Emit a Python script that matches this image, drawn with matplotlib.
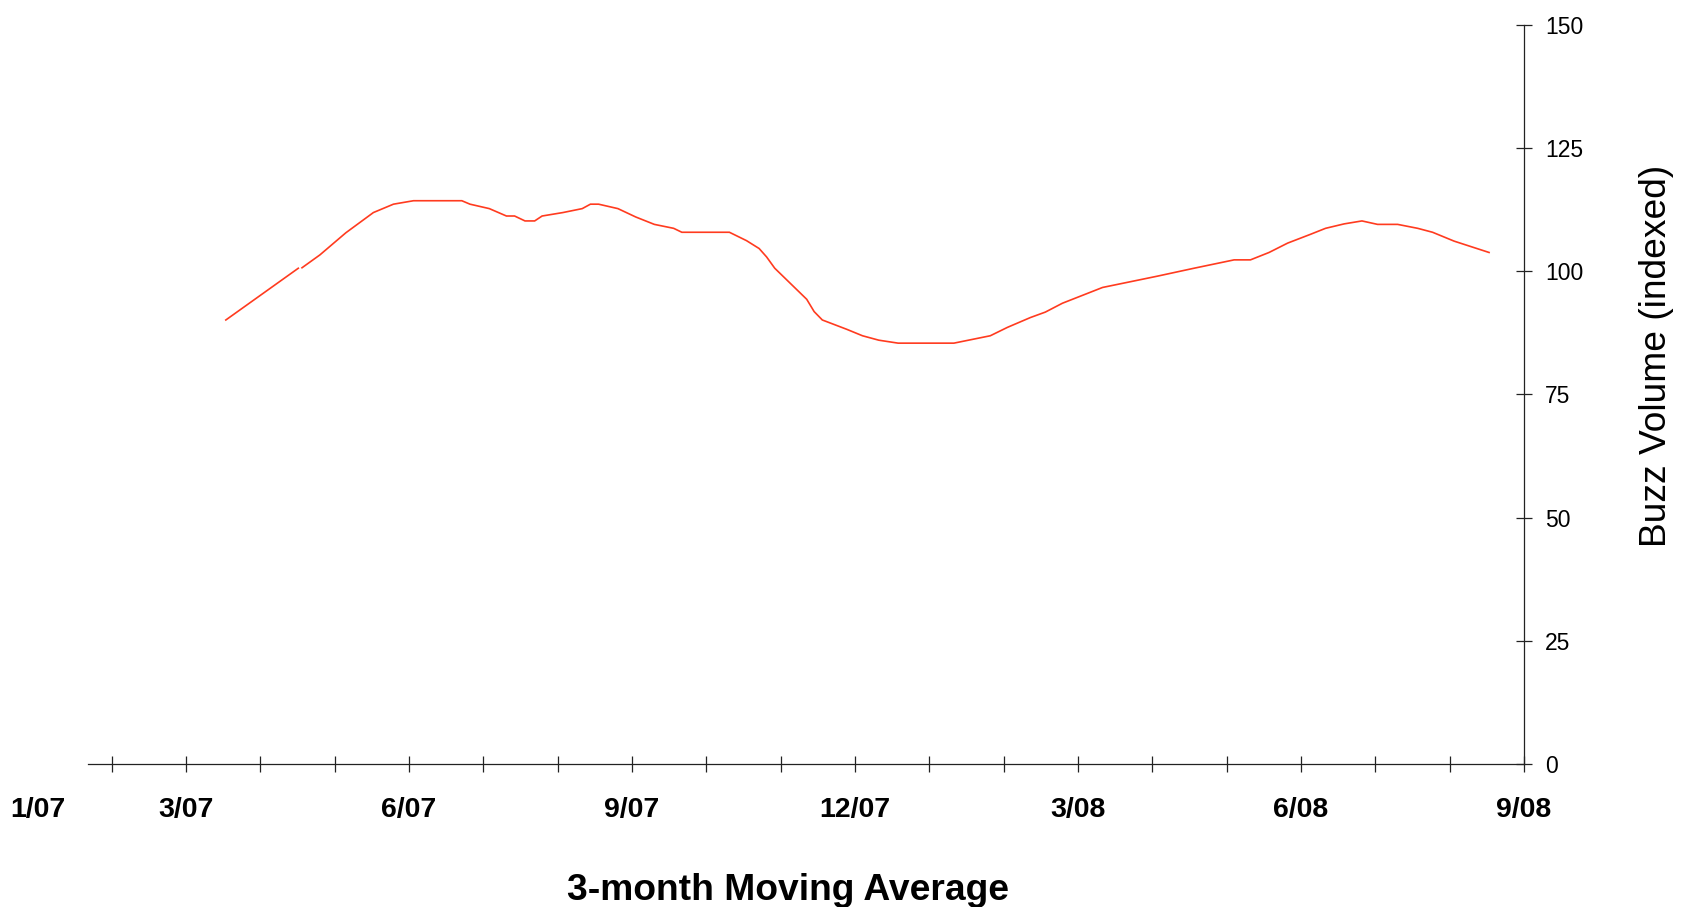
import numpy as np
import matplotlib
matplotlib.use("Agg")
import matplotlib.pyplot as plt

# ---- data (x in months since Jan 2007; 0 = 1/07) ----
months = [2.535, 3.51, 3.535, 3.56, 3.80, 4.15, 4.52, 4.79, 5.06, 5.31, 5.54, 5.71,
          5.82, 6.08, 6.31, 6.42, 6.56, 6.69, 6.79, 7.07, 7.33, 7.44, 7.55, 7.81,
          8.05, 8.30, 8.56, 8.67, 8.95, 9.31, 9.54, 9.71, 9.81, 9.92, 10.35, 10.45,
          10.56, 10.89, 11.10, 11.32, 11.58, 11.82, 12.08, 12.33, 12.82, 13.05, 13.36,
          13.56, 13.79, 14.33, 15.07, 15.56, 16.10, 16.32, 16.57, 16.82, 17.13, 17.33,
          17.58, 17.82, 18.03, 18.30, 18.57, 18.77, 19.06, 19.53]
buzz = [90.1, 100.6, np.nan, 100.7, 103.3, 107.8, 111.9, 113.6, 114.3, 114.3, 114.3, 114.3,
        113.6, 112.7, 111.2, 111.2, 110.2, 110.2, 111.2, 111.9, 112.7, 113.6, 113.6, 112.7,
        111.0, 109.5, 108.7, 107.9, 107.9, 107.9, 106.2, 104.6, 102.9, 100.6, 94.3, 91.8,
        90.1, 88.2, 86.9, 86.0, 85.4, 85.4, 85.4, 85.4, 86.9, 88.6, 90.6,
        91.7, 93.5, 96.7, 99.0, 100.6, 102.3, 102.3, 103.8, 105.7, 107.5, 108.7,
        109.6, 110.2, 109.5, 109.5, 108.7, 107.9, 106.1, 103.8]

label_pos = [0, 2, 5, 8, 11, 14, 17, 20]
label_txt = ["1/07", "3/07", "6/07", "9/07", "12/07", "3/08", "6/08", "9/08"]
month_ticks = list(range(1, 21))
y_ticks = [0, 25, 50, 75, 100, 125, 150]

W, H = 1692, 907
fig = plt.figure(figsize=(W / 100, H / 100), dpi=100)
left = 37.4 / W
right = 1524 / W
bottom = (H - 764) / H
top = (H - 24.8) / H
ax = fig.add_axes([left, bottom, right - left, top - bottom])

ax.plot(months, buzz, color="#FF3B1F", lw=1.2, solid_joinstyle="miter")

ax.set_xlim(0, 20)
ax.set_ylim(0, 150)

for s in ["top", "left"]:
    ax.spines[s].set_visible(False)
ax.spines["bottom"].set_bounds(0.68, 20)
ax.spines["bottom"].set_color("#222222")
ax.spines["right"].set_color("#222222")
ax.spines["bottom"].set_linewidth(0.9)
ax.spines["right"].set_linewidth(0.9)

# x axis: tick marks each month (major), labels via minor ticks
ax.xaxis.remove_overlapping_locs = False
ax.set_xticks(month_ticks)
ax.set_xticklabels([])
ax.set_xticks(label_pos, minor=True)
ax.set_xticklabels(label_txt, minor=True, fontsize=20.5, fontweight="bold",
                   family="Liberation Sans")
ax.tick_params(axis="x", which="major", direction="inout", length=12.2, width=0.9,
               color="#222222")
ax.tick_params(axis="x", which="minor", length=0, pad=23.5)

# y axis on right
ax.yaxis.tick_right()
ax.set_yticks(y_ticks)
ax.set_yticklabels([str(v) for v in y_ticks], fontsize=16.5, family="Liberation Sans")
ax.tick_params(axis="y", direction="inout", length=12.2, width=0.9, color="#222222", pad=8.9)

fig.text(1656 / W, 1 - 355.6 / H, "Buzz Volume (indexed)", rotation=90,
         ha="center", va="center", fontsize=26.7, family="Liberation Sans")
fig.text(788 / W, 1 - 890 / H, "3-month Moving Average", ha="center", va="center",
         fontsize=26.8, fontweight="bold", family="Liberation Sans")

fig.savefig("out.png", dpi=100)
